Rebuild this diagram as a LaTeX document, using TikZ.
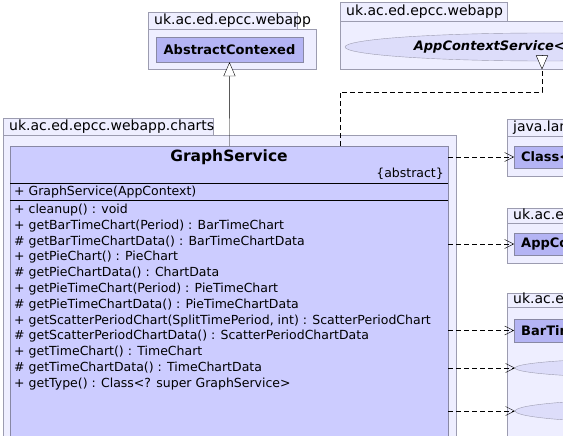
\documentclass[tikz,border=0pt]{standalone}
\usepackage{fontspec}
\setmainfont{DejaVu Sans}
\usepackage{tikz}
\usetikzlibrary{positioning,arrows.meta,shapes.geometric}
\definecolor{pkgFondo}{HTML}{EEEEFF}
\definecolor{pkgBorde}{HTML}{9C9CB0}
\definecolor{claseFondo}{HTML}{CCCCFF}
\definecolor{claseExtFondo}{HTML}{B4B4F4}
\definecolor{claseBorde}{HTML}{8888A4}
\definecolor{interfazFondo}{HTML}{DDDDFA}
\colorlet{interfazBorde}{pkgBorde}

\begin{document}
\begin{tikzpicture}[x=1pt, y=-1pt,
    pkgbody/.style={draw=pkgBorde, fill=pkgFondo, anchor=north west, inner sep=0pt},
    pkgtab/.style={draw=pkgBorde, fill=pkgFondo, anchor=south west, inner xsep=6pt, inner ysep=0pt,
      minimum height=17pt, align=left, font=\fontsize{14}{15}\selectfont},
    clase/.style={draw=claseBorde, fill=claseExtFondo, inner xsep=7pt, inner ysep=0pt,
      font=\fontsize{13}{15}\selectfont\bfseries},
    interfaz/.style={ellipse, draw=interfazBorde, fill=interfazFondo, inner sep=0pt,
      font=\fontsize{13}{15}\selectfont\bfseries\itshape},
    miembro/.style={anchor=west, inner sep=0pt, font=\fontsize{12.5}{14}\selectfont},
    herencia/.style={-{Triangle[open, length=14pt, width=12pt, fill=white]}},
    depende/.style={dash pattern=on 5pt off 3pt, -{Straight Barb[length=9pt, width=9pt]}}]
    \useasboundingbox (0,0) rectangle (563,436);
    \clip (0,0) rectangle (563,436);

    % Paquete uk.ac.ed.epcc.webapp (arriba, izquierda)
    \node[pkgbody, minimum width=168, minimum height=40] (pkgwebappA) at (148,29) {};
    \node[pkgtab, text width=137pt] (tabwebappA) at (pkgwebappA.north west) {uk.ac.ed.epcc.webapp};
    \node[clase, minimum width=147, minimum height=25] (abstractcontexed) at (229.5,49.5) {AbstractContexed};

    % Paquete uk.ac.ed.epcc.webapp (arriba, derecha)
    \node[pkgbody, minimum width=260, minimum height=48] (pkgwebappB) at (340,21) {};
    \node[pkgtab, text width=155pt, minimum height=19pt] (tabwebappB) at (pkgwebappB.north west) {uk.ac.ed.epcc.webapp};
    \node[interfaz, minimum width=398, minimum height=28] (appcontextservice) at (544,47) {AppContextService<GraphService>};

    % Paquete uk.ac.ed.epcc.webapp.charts
    \node[pkgbody, minimum width=453, minimum height=320] (pkgcharts) at (3,135) {};
    \node[pkgtab, text width=198pt] (tabcharts) at (pkgcharts.north west) {uk.ac.ed.epcc.webapp.charts};

    % Clase GraphService
    \node[draw=claseBorde, fill=claseFondo, anchor=north west, minimum width=438, minimum height=300, inner sep=0pt] (graphservice) at (10,146) {};
    \node[font=\fontsize{15.5}{18}\selectfont\bfseries] (gsnombre) at (229,157) {GraphService};
    \node[miembro, anchor=east] (gsabstract) at (444,174) {\{abstract\}};
    \draw (10,183) -- (448,183);
    \draw (10,200) -- (448,200);
    \node[miembro] (gsconstructor) at (14,192) {+ GraphService(AppContext)};
    \foreach \metodo [count=\i from 0] in {%
        {+ cleanup() : void},
        {+ getBarTimeChart(Period) : BarTimeChart},
        {\# getBarTimeChartData() : BarTimeChartData},
        {+ getPieChart() : PieChart},
        {\# getPieChartData() : ChartData},
        {+ getPieTimeChart(Period) : PieTimeChart},
        {\# getPieTimeChartData() : PieTimeChartData},
        {+ getScatterPeriodChart(SplitTimePeriod, int) : ScatterPeriodChart},
        {\# getScatterPeriodChartData() : ScatterPeriodChartData},
        {+ getTimeChart() : TimeChart},
        {\# getTimeChartData() : TimeChartData},
        {+ getType() : Class<? super GraphService>}}
      \node[miembro] (gsmetodo\i) at (14,{210+15.8*\i}) {\metodo};

    % Paquete java.lang
    \node[pkgbody, minimum width=150, minimum height=40] (pkgjavalang) at (507,136) {};
    \node[pkgtab, text width=70pt] (tabjavalang) at (pkgjavalang.north west) {java.lang};
    \node[clase, anchor=west, minimum height=22] (claseT) at (514,157) {Class<T>};

    % Paquete uk.ac.ed.epcc.webapp (derecha)
    \node[pkgbody, minimum width=150, minimum height=40] (pkgwebappC) at (507,223) {};
    \node[pkgtab, text width=160pt, minimum height=15pt] (tabwebappC) at (pkgwebappC.north west) {uk.ac.ed.epcc.webapp};
    \node[clase, anchor=west, minimum height=22] (appcontext) at (514,244) {AppContext};

    % Paquete de los tipos de grafica
    \node[pkgbody, minimum width=150, minimum height=140] (pkgtipos) at (507,307) {};
    \node[pkgtab, text width=220pt, minimum height=14pt] (tabtipos) at (pkgtipos.north west) {uk.ac.ed.epcc.webapp.charts.bar};
    \node[clase, anchor=west, minimum height=23] (bartimechart) at (514,330.5) {BarTimeChart};
    \node[interfaz, anchor=west, minimum width=300, minimum height=20] (interfazA) at (515,368) {};
    \node[interfaz, anchor=west, minimum width=300, minimum height=24] (interfazB) at (515,411) {};

    % Herencia y realizacion
    \draw[herencia] (graphservice.north) -- (abstractcontexed.south);
    \coordinate (realizIni) at (340,146);
    \coordinate (realizFin) at (542,69.5);
    \draw[dash pattern=on 5pt off 3pt] (realizIni) -- (340,92) -| ([yshift=14pt]realizFin);
    \draw[herencia] ([yshift=14pt]realizFin) -- (realizFin);

    % Dependencias
    \draw[depende] (graphservice.east |- claseT.west) -- (claseT.west);
    \draw[depende] (graphservice.east |- appcontext.west) -- (appcontext.west);
    \draw[depende] (graphservice.east |- bartimechart.west) -- (bartimechart.west);
    \draw[depende] (graphservice.east |- interfazA.west) -- (interfazA.west);
    \draw[depende] (graphservice.east |- interfazB.west) -- (interfazB.west);
\end{tikzpicture}
\end{document}
